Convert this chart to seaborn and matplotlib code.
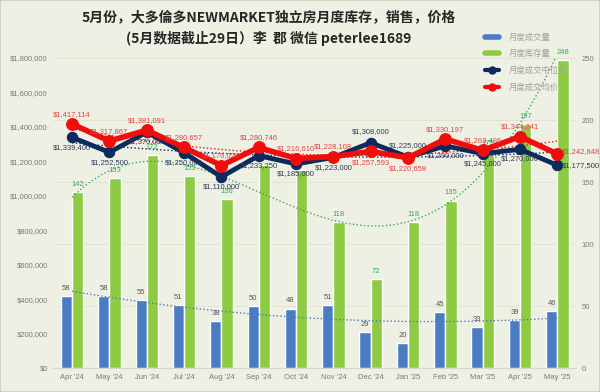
import numpy as np
import pandas as pd
import seaborn as sns
import matplotlib.pyplot as plt
from matplotlib.ticker import FuncFormatter
from matplotlib.lines import Line2D
from matplotlib.patches import Rectangle

months = ["Apr '24", "May '24", "Jun '24", "Jul '24", "Aug '24", "Sep '24", "Oct '24",
          "Nov '24", "Dec '24", "Jan '25", "Feb '25", "Mar '25", "Apr '25", "May '25"]
sales = [58, 58, 55, 51, 38, 50, 48, 51, 29, 20, 45, 33, 39, 46]
inventory = [142, 153, 172, 155, 136, 164, 160, 118, 72, 118, 135, 175, 197, 248]
median_price = [1339400, 1252500, 1370000, 1250000, 1110000, 1233250, 1185000,
                1223000, 1308000, 1225000, 1290000, 1245000, 1270000, 1177500]
avg_price = [1417114, 1317867, 1381091, 1280657, 1176026, 1280746, 1216610,
             1228108, 1257593, 1220658, 1330197, 1263486, 1344241, 1242848]

series_names = ['月度成交量', '月度库存量', '月度成交中位价', '月度成交均价']

bg = '#edf0e2'
blue = '#4a7cc4'
green = '#8dcb45'
navy = '#0d2a5e'
red = '#f20d0d'

sns.set_theme(style='white')
plt.rcParams['font.family'] = ['Liberation Sans', 'Noto Sans CJK SC', 'DejaVu Sans']

fig = plt.figure(figsize=(6, 3.92), dpi=100, facecolor=bg)
ax = fig.add_axes([0.089, 0.061, 0.871, 0.791])
ax.set_facecolor(bg)

# bars (right axis scale)
bars = pd.DataFrame({
    'month': months * 2,
    'value': sales + inventory,
    'kind': [series_names[0]] * len(months) + [series_names[1]] * len(months),
})
sns.barplot(data=bars, x='month', y='value', hue='kind', palette=[blue, green],
            width=0.6, saturation=1, errorbar=None, legend=False, ax=ax, zorder=2)
ax.bar_label(ax.containers[0], padding=3, fontsize=5.5, color='#595959')
ax.bar_label(ax.containers[1], padding=3, fontsize=5.5, color='#3aa864')

# dotted trendlines
idx = np.arange(len(months))
xs = np.linspace(0, len(months) - 1, 200)
ax.plot(xs, np.polyval(np.polyfit(idx, sales, 2), xs), ls=':', lw=1, color=blue, zorder=3)
ax.plot(xs, np.polyval(np.polyfit(idx, inventory, 4), xs), ls=':', lw=1, color='#3aa864', zorder=3)

ax.set_ylim(0, 250)
ax.set_yticks(range(0, 251, 50))
ax.set_xlim(-0.5, len(months) - 0.5)
ax.grid(axis='y', color='#dde1d0', lw=0.6)
ax.set_axisbelow(True)
ax.set_xlabel('')
ax.set_ylabel('')

# price lines (left axis scale)
ax2 = ax.twinx()
ax2.plot(xs, np.polyval(np.polyfit(idx, avg_price, 2), xs), ls=':', lw=1, color=red, zorder=2)
ax2.plot(xs, np.polyval(np.polyfit(idx, median_price, 2), xs), ls=':', lw=1, color=navy, zorder=2)
sns.lineplot(x=idx, y=median_price, color=navy, lw=3.5, marker='o', markersize=7.5,
             markeredgecolor=navy, ax=ax2, zorder=4)
sns.lineplot(x=idx, y=avg_price, color=red, lw=4, marker='o', markersize=8.5,
             markeredgecolor=red, ax=ax2, zorder=5)

for i, (m, a) in enumerate(zip(median_price, avg_price)):
    if i == len(months) - 1:
        ax2.annotate(f'${a:,.0f}', (i, a), xytext=(3, 2), textcoords='offset points',
                     ha='left', va='center', fontsize=5.5, color='#e04545', zorder=6)
        ax2.annotate(f'${m:,.0f}', (i, m), xytext=(3, 0), textcoords='offset points',
                     ha='left', va='center', fontsize=5.5, color='#2e3c5c', zorder=6)
        continue
    up_a = 7 if a >= m else -8
    ax2.annotate(f'${a:,.0f}', (i, a), xytext=(0, up_a), textcoords='offset points',
                 ha='center', va='center', fontsize=5.5, color='#e04545', zorder=6)
    ax2.annotate(f'${m:,.0f}', (i, m), xytext=(0, -up_a), textcoords='offset points',
                 ha='center', va='center', fontsize=5.5, color='#2e3c5c', zorder=6)

ax2.set_ylim(0, 1800000)
ax2.set_yticks(range(0, 1800001, 200000))
ax2.yaxis.set_major_formatter(FuncFormatter(lambda v, p: f'${v:,.0f}'))
ax2.yaxis.tick_left()
ax.yaxis.tick_right()
ax2.set_ylabel('')

for a_ in (ax, ax2):
    for s in a_.spines.values():
        s.set_visible(False)
    a_.tick_params(length=0, labelsize=5.5, labelcolor='#7a7a7a', pad=4)
ax.spines['bottom'].set_visible(True)
ax.spines['bottom'].set_color('#d4d8c8')
ax.spines['bottom'].set_linewidth(0.8)

handles = [Line2D([], [], color=blue, lw=4),
           Line2D([], [], color=green, lw=4),
           Line2D([], [], color=navy, lw=3, marker='o', markersize=5),
           Line2D([], [], color=red, lw=3, marker='o', markersize=5)]
fig.legend(handles, series_names, loc='upper left', bbox_to_anchor=(0.797, 0.932),
           frameon=False, fontsize=6, labelcolor='#a0a0a0', handlelength=1.7,
           handletextpad=1.2, labelspacing=1.0, borderpad=0.3)

fig.text(0.448, 0.957, '5月份，大多倫多NEWMARKET独立房月度库存，销售，价格', ha='center', va='center',
         fontsize=10, fontweight='bold', family=['Noto Sans CJK SC', 'DejaVu Sans'])
fig.text(0.447, 0.903, '(5月数据截止29日）李  郡 微信 peterlee1689', ha='center', va='center',
         fontsize=10, fontweight='bold', family=['Noto Sans CJK SC', 'DejaVu Sans'])

fig.patches.append(Rectangle((0, 0), 1, 1, transform=fig.transFigure, fill=False,
                             ec='#c9ccc0', lw=1.2))

fig.savefig('out.png', dpi=100, facecolor=bg)
